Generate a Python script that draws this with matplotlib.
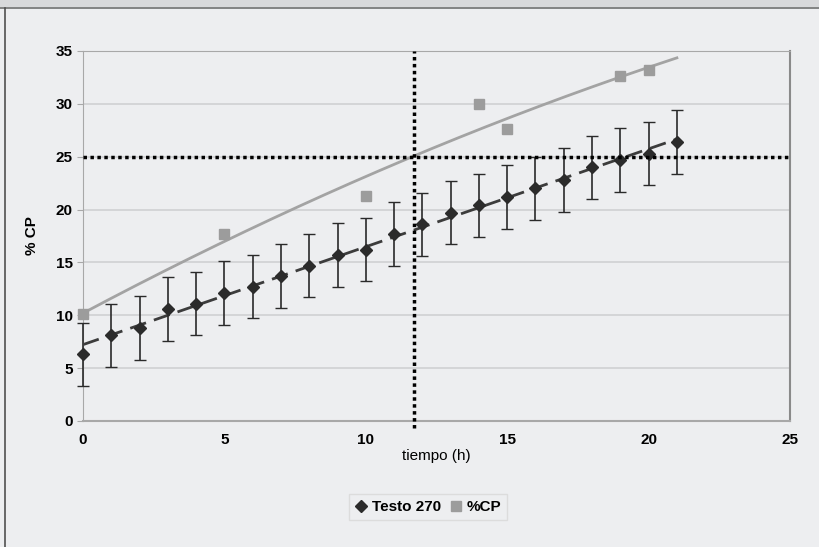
import numpy as np
import matplotlib.pyplot as plt
from matplotlib.patches import Rectangle
from matplotlib.lines import Line2D

# Testo 270 readings (hourly) with error bars
t_testo = [0, 1, 2, 3, 4, 5, 6, 7, 8, 9, 10, 11, 12, 13, 14, 15, 16, 17, 18, 19, 20, 21]
cp_testo = [6.3, 8.1, 8.8, 10.6, 11.1, 12.1, 12.7, 13.7, 14.7, 15.7, 16.2, 17.7,
            18.6, 19.7, 20.4, 21.2, 22.0, 22.8, 24.0, 24.7, 25.3, 26.4]
err_testo = [3.0] * len(t_testo)

# %CP lab values
t_cp = [0, 5, 10, 14, 15, 19, 20]
cp_lab = [10.1, 17.7, 21.3, 30.0, 27.6, 32.6, 33.2]

x_cut = 11.7
y_cut = 25

bg = '#edeef0'
plt.rcParams['font.family'] = ['Liberation Sans Narrow', 'Liberation Sans', 'DejaVu Sans']

fig = plt.figure(figsize=(8.19, 5.47), dpi=100, facecolor=bg)
ax = fig.add_axes([83 / 819, 126 / 547, 707 / 819, 370 / 547])
ax.set_facecolor(bg)

# frame pieces of the screenshot
fig.patches.append(Rectangle((0, 1 - 7 / 547), 1, 7 / 547, transform=fig.transFigure,
                             facecolor='#d8d9db', edgecolor='none', zorder=0))
fig.lines.append(Line2D([0, 1], [1 - 8 / 547] * 2, transform=fig.transFigure, color='#707070', lw=1.2))
fig.lines.append(Line2D([5 / 819] * 2, [0, 1 - 8 / 547], transform=fig.transFigure, color='#505050', lw=1.2))

# trend lines fitted from the data
p_cp = np.polyfit(t_cp, cp_lab, 2)
p_testo = np.polyfit(t_testo, cp_testo, 1)
xx = np.linspace(0, 21, 200)
ax.plot(xx, np.polyval(p_cp, xx), color='#a3a3a3', lw=2, zorder=2)
ax.plot(xx, np.polyval(p_testo, xx), color='#3c3c3c', lw=2, ls=(0, (6, 3)), zorder=2)

eb = ax.errorbar(t_testo, cp_testo, yerr=err_testo, fmt='none', ecolor='#2a2a2a', elinewidth=1.2,
                 capsize=4, capthick=1, zorder=3)
for art in eb.lines[1] + eb.lines[2]:
    art.set_clip_on(False)
ax.plot(t_testo, cp_testo, 'D', color='#2b2b2b', ms=6, zorder=4, label='Testo 270', clip_on=False)
ax.plot(t_cp, cp_lab, 's', color='#9c9c9c', ms=6.5, zorder=4, label='%CP', clip_on=False)

# cut-off guides; the vertical one runs a little past the x axis as in the original
ax.axvline(x_cut, ymin=-0.02, ymax=1.0, color='black', lw=2.5, ls=(0, (1, 1)), zorder=5, clip_on=False)
ax.axhline(y_cut, color='black', lw=2.5, ls=(0, (1, 1)), zorder=5)

ax.set_xlim(0, 25)
ax.set_ylim(0, 35)
ax.set_xticks(range(0, 26, 5))
ax.set_yticks(range(0, 36, 5))
ax.yaxis.grid(True, color='#cfd0d2', lw=1.2)
ax.set_axisbelow(True)
for s in ['top', 'right', 'left', 'bottom']:
    ax.spines[s].set_color('#a8a8a8')
ax.spines['right'].set_color('#8a8a8a')
ax.spines['right'].set_linewidth(1.5)
ax.spines['bottom'].set_linewidth(1.5)
ax.tick_params(axis='x', length=0, pad=9, labelsize=11)
ax.tick_params(axis='y', length=4, color='#a8a8a8', labelsize=11)
for lab in ax.get_xticklabels() + ax.get_yticklabels():
    lab.set_fontweight('bold')

ax.set_xlabel('tiempo (h)', fontsize=11, labelpad=1)
ax.set_ylabel('% CP', fontsize=11, fontweight='bold', labelpad=12)

leg = ax.legend(loc='center', bbox_to_anchor=(428 / 819, 1 - 507 / 547), bbox_transform=fig.transFigure,
                ncol=2, frameon=True, fancybox=False, fontsize=11, handlelength=0.8,
                handletextpad=0.3, columnspacing=0.6, borderpad=0.4)
leg.get_frame().set_facecolor(bg)
leg.get_frame().set_edgecolor('#d8d8d8')
for txt in leg.get_texts():
    txt.set_fontweight('bold')

fig.savefig('out.png', dpi=100, facecolor=bg)
